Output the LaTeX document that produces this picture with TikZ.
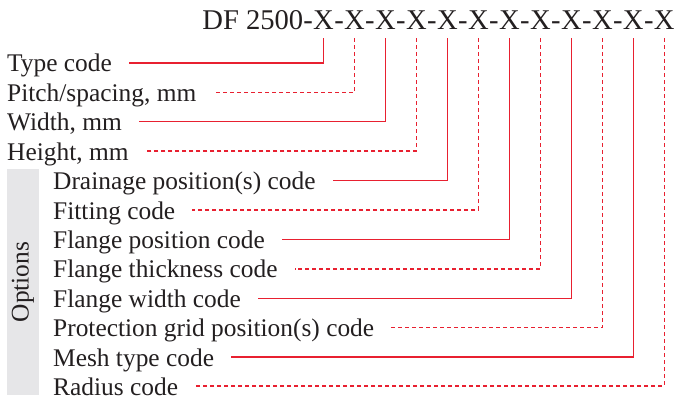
\documentclass[tikz,border=0pt]{standalone}
\usepackage{fontspec}
\setmainfont{Liberation Serif}
\definecolor{codered}{RGB}{232,32,48}
\definecolor{ink}{RGB}{35,31,32}
\definecolor{optgray}{RGB}{230,230,232}
\begin{document}
\begin{tikzpicture}[x=1pt,y=-1pt,
  lbl/.style={anchor=west, inner xsep=0pt, inner ysep=0pt, text height=18pt, text depth=0pt,
    font=\fontsize{25.4}{30}\selectfont, text=ink},
  hdr/.style={inner xsep=0pt, inner ysep=8pt, anchor=base west,
    font=\fontsize{28.6}{34}\selectfont, text=ink},
  solidlink/.style={draw=codered, line width=1.4pt},
  dashlink/.style={draw=codered, line width=1.4pt, dash pattern=on 4pt off 3pt},
  optbox/.style={fill=optgray, inner sep=0pt, minimum width=32pt, minimum height=226pt},
]
\useasboundingbox (0,0) rectangle (688,398);

% header
\node[hdr, anchor=base east] (h0) at (313,30) {DF 2500-};
\node[hdr] (x1) at (h0.base east) {X};
\foreach \i [evaluate=\i as \p using int(\i-1)] in {2,...,12} {
  \node[hdr] (d\p) at (x\p.base east) {-};
  \node[hdr] (x\i) at (d\p.base east) {X};
}

% options box
\node[optbox] (ob) at (23,282) {};
\node[rotate=90, inner sep=0pt, font=\fontsize{25.4}{30}\selectfont, text=ink] (ot) at (ob.center) {Options};

% labels
\node[lbl] (l1) at (7,63) {Type code};
\node[lbl] (l2) at (7,92.4) {Pitch/spacing, mm};
\node[lbl] (l3) at (7,121.8) {Width, mm};
\node[lbl] (l4) at (7,151.2) {Height, mm};
\node[lbl] (l5) at (53,180.6) {Drainage position(s) code};
\node[lbl] (l6) at (53,210) {Fitting code};
\node[lbl] (l7) at (53,239.4) {Flange position code};
\node[lbl] (l8) at (53,268.8) {Flange thickness code};
\node[lbl] (l9) at (53,298.2) {Flange width code};
\node[lbl] (l10) at (53,327.6) {Protection grid position(s) code};
\node[lbl] (l11) at (53,357) {Mesh type code};
\node[lbl] (l12) at (53,386) {Radius code};

% connectors
\foreach \i in {1,3,5,7,9,11} {
  \draw[solidlink] (x\i.south) |- ([xshift=17pt]l\i.east);
}
\foreach \i in {2,4,6,8,10,12} {
  \draw[dashlink] (x\i.south) |- ([xshift=17pt]l\i.east);
}
\end{tikzpicture}
\end{document}
